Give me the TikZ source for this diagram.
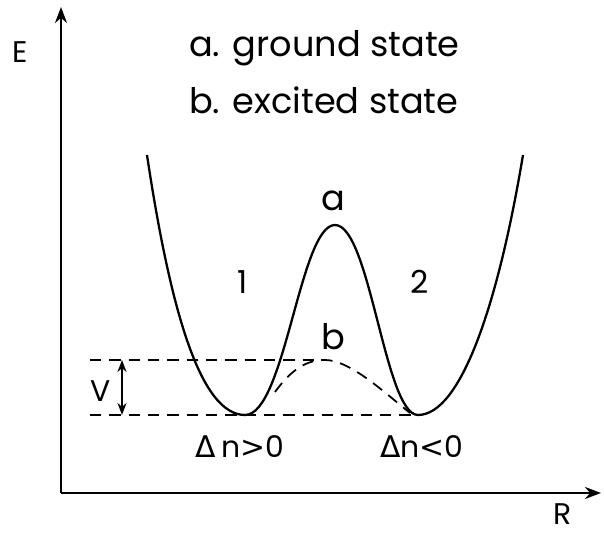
\documentclass[tikz,border=0pt]{standalone}
\usepackage{fontspec}
\setmainfont{Poppins}
\newfontfamily\grk{DejaVu Sans}
\usepackage{tikz}
\usetikzlibrary{arrows.meta,positioning,calc}

\begin{document}
\begin{tikzpicture}[
  axis/.style={line width=1.4pt, -{Stealth[length=3.2mm, width=2.4mm]}},
  well/.style={line width=1.3pt},
  lvl/.style={line width=1pt, dash pattern=on 6.5pt off 4.5pt},
  arr/.style={line width=1pt, {Stealth[length=2.4mm]}-{Stealth[length=2.4mm]}},
  lbl/.style={inner sep=1pt, font=\fontsize{17}{20}\selectfont},
  big/.style={inner sep=1pt, font=\fontsize{20}{24}\selectfont},
  mid/.style={inner sep=1pt, font=\fontsize{17}{20}\selectfont},
  num/.style={inner sep=1pt, font=\fontsize{18}{21}\selectfont},
]
\useasboundingbox (0,0) rectangle (12.08,10.66);

% axes
\coordinate (origin) at (1.22,0.8);
\coordinate (ytop) at (1.22,10.52);
\coordinate (xend) at (12.02,0.8);
\draw[axis] (origin) -- (ytop);
\draw[axis] (origin) -- (xend);
\node[lbl] (elbl) at (0.4,9.62) {E};
\node[lbl] (rlbl) at (11.26,0.38) {R};

% legend
\node[big, anchor=west] (lega) at (3.74,9.7) {a. ground state};
\node[big, anchor=west] (legb) at (3.74,8.66) {b. excited state};

% double well (a)
\coordinate (wstart) at (2.94,7.56);
\coordinate (lmin) at (4.9,2.36);
\coordinate (peak) at (6.7,6.16);
\coordinate (rmin) at (8.36,2.36);
\coordinate (wend) at (10.46,7.56);
\draw[well] (wstart) .. controls (3.4,4.5) and (4.0,2.36) .. (lmin)
  .. controls (5.7,2.36) and (6.0,6.16) .. (peak)
  .. controls (7.4,6.16) and (7.7,2.36) .. (rmin)
  .. controls (9.2,2.36) and (9.95,4.5) .. (wend);

% excited state (b)
\coordinate (bstart) at (5.5,2.82);
\coordinate (btop) at (6.5,3.46);
\coordinate (bend) at (8.2,2.4);
\draw[lvl] (bstart) .. controls (5.85,3.3) and (6.15,3.46) .. (btop)
  .. controls (7.0,3.46) and (7.7,2.8) .. (bend);

% levels
\coordinate (up0) at (1.8,3.46);
\coordinate (lo0) at (1.8,2.36);
\coordinate (lo1) at (8.3,2.36);
\draw[lvl] (up0) -- (btop);
\draw[lvl] (lo0) -- (lo1);

% barrier V
\coordinate (vtop) at (2.44,3.46);
\coordinate (vbot) at (2.44,2.36);
\draw[arr] (vtop) -- (vbot);
\node[lbl] (vlbl) at (2.02,2.84) {V};

% labels
\node[big] (alb) at (6.66,6.64) {a};
\node[big] (blb) at (6.66,3.92) {b};
\node[num] (one) at (4.86,5.02) {1};
\node[num] (two) at (8.4,5.02) {2};
\node[mid] (dnpos) at (4.8,1.72) {{\grk Δ}\,n{\grk >}0};
\node[mid] (dnneg) at (8.44,1.72) {{\grk Δ}n{\grk <}0};
\end{tikzpicture}
\end{document}
